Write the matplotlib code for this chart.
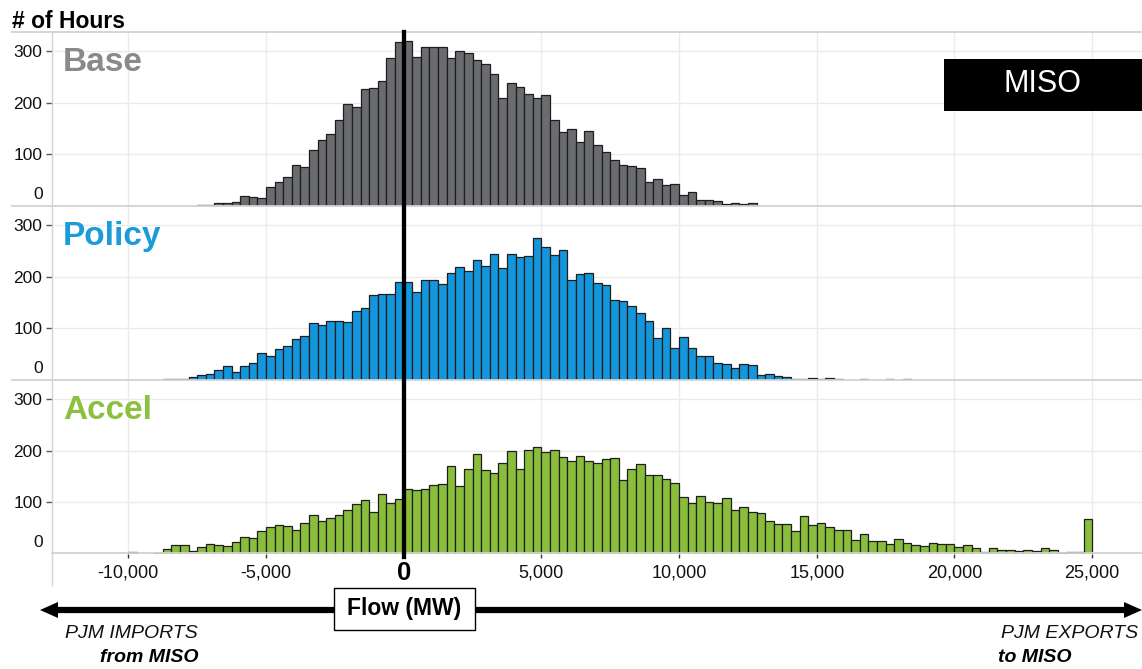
import matplotlib
matplotlib.use("Agg")
import matplotlib.pyplot as plt
from matplotlib.lines import Line2D
from matplotlib.patches import Rectangle, Polygon
from matplotlib.transforms import blended_transform_factory
import numpy as np

plt.rcParams['font.family'] = ['Liberation Sans', 'DejaVu Sans']

# ---------------- data ----------------
BIN_WIDTH = 312.5  # MW

scenarios = ["Base", "Policy", "Accel"]

base_start = -7500.0
base_counts = [1, 1, 5, 5, 6, 19, 17, 14, 36, 45, 56, 78, 75, 107, 127, 139, 166, 197, 191,
               227, 229, 241, 287, 317,
               319, 289, 307, 307, 307, 287, 301, 297, 283, 275, 255, 209, 238, 231, 216, 209,
               215, 167, 142, 149, 123, 145, 117, 103, 89, 79, 76, 73, 45, 51, 39, 41, 21, 27,
               10, 10, 8, 2, 4, 2, 4]

policy_start = -8750.0
policy_counts = [1, 1, 1, 5, 8, 10, 19, 27, 15, 27, 32, 51, 46, 60, 65, 79, 85, 109, 105, 113,
                 113, 111, 134, 139, 165, 167, 167, 189,
                 189, 169, 193, 193, 185, 206, 218, 210, 233, 220, 244, 216, 243, 237, 239, 274,
                 258, 241, 252, 193, 204, 206, 188, 183, 154, 152, 142, 130, 113, 80, 101, 61,
                 82, 62, 45, 45, 33, 31, 23, 31, 28, 8, 11, 6, 5, 1, 1, 3, 1, 3, 1, 0, 0, 1, 0,
                 0, 1, 0, 1]

accel_start = -10000.0
accel_counts = [2, 0, 0, 1, 9, 16, 16, 5, 12, 18, 16, 14, 22, 33, 30, 44, 52, 56, 54, 46, 59,
                75, 64, 69, 74, 85, 97, 103, 80, 115, 99, 105,
                126, 123, 125, 133, 135, 170, 131, 165, 194, 162, 157, 176, 200, 165, 202, 206,
                197, 202, 187, 180, 190, 180, 176, 184, 186, 142, 165, 173, 153, 153, 144, 137,
                109, 99, 112, 101, 99, 107, 85,
                91, 81, 79, 64, 58, 58, 44, 73, 56, 59, 51, 46, 46, 27, 37, 25, 25, 18, 28, 20,
                16, 14, 20, 18, 18, 12, 16, 10, 3, 10, 7, 7, 5, 7, 4, 10, 7, 1, 3, 3, 67]

starts = [base_start, policy_start, accel_start]
counts = [base_counts, policy_counts, accel_counts]

bar_colors = ["#6b6c70", "#1496dc", "#8bbd3c"]
label_colors = ["#8a8a8a", "#1b9bd8", "#8cc03f"]

y_ticks = [100, 200, 300]
x_ticks = [-10000, -5000, 0, 5000, 10000, 15000, 20000, 25000]
x_tick_labels = ["-10,000", "-5,000", "0", "5,000", "10,000", "15,000", "20,000", "25,000"]

# ---------------- layout ----------------
W, H = 1142, 669
fig = plt.figure(figsize=(W / 100, H / 100), dpi=100)
fig.patch.set_facecolor("white")


def fx(px):
    return px / W


def fy(py):
    return 1 - py / H


XMIN, XMAX = -12770, 26810
YMAX = 337
panel_tops = [32, 206, 380]
panel_h = 173.5
ax_left = 52
ax_w = 1142 - 52

grid_c = "#ebebeb"
sep_c = "#d2d2d2"

axes = []
for i, name in enumerate(scenarios):
    top = panel_tops[i]
    ax = fig.add_axes([fx(ax_left), fy(top + panel_h), fx(ax_w), panel_h / H])
    ax.set_xlim(XMIN, XMAX)
    ax.set_ylim(0, YMAX)
    for s in ax.spines.values():
        s.set_visible(False)
    ax.set_axisbelow(True)
    ax.set_xticks(x_ticks)
    ax.set_yticks(y_ticks)
    ax.grid(True, color=grid_c, lw=1.0)
    ax.set_yticklabels([str(v) for v in y_ticks], fontsize=12.5, color="#111111")
    ax.tick_params(axis="y", length=4, width=1, color="#555555", pad=3)
    ax.tick_params(axis="x", length=0, labelbottom=False)

    c = np.array(counts[i], dtype=float)
    lefts = starts[i] + BIN_WIDTH * np.arange(len(c))
    m = c > 0
    ax.bar(lefts[m], c[m], width=BIN_WIDTH, align="edge", color=bar_colors[i],
           edgecolor="#1e1e1e", linewidth=0.9, zorder=2)

    # zero label (offset, no tick)
    ax.text(-(8.5 / ax_w), 21, "0", transform=ax.get_yaxis_transform(), ha="right",
            va="center", fontsize=12.5, color="#111111")
    # panel name
    ax.text(11 / ax_w, 1 - 38.7 / panel_h, name, transform=ax.transAxes, ha="left",
            va="baseline", fontsize=24, fontweight="bold", color=label_colors[i])
    axes.append(ax)

ax_b = axes[-1]
# x tick marks & labels on bottom panel
ax_b.tick_params(axis="x", length=3, width=1, color="#333333", direction="out")
xt = blended_transform_factory(ax_b.transData, fig.transFigure)
for v, lab in zip(x_ticks, x_tick_labels):
    if v == 0:
        ax_b.text(v, fy(572.5), lab, transform=xt, ha="center", va="center",
                  fontsize=18.5, fontweight="bold", color="black")
    else:
        ax_b.text(v, fy(573), lab, transform=xt, ha="center", va="center",
                  fontsize=13, color="#111111")

# separators / borders
for yy in panel_tops:
    fig.add_artist(Line2D([fx(12), fx(1142)], [fy(yy), fy(yy)], color=sep_c, lw=1.3))
fig.add_artist(Line2D([fx(52), fx(1142)], [fy(553), fy(553)], color=sep_c, lw=1.3))
fig.add_artist(Line2D([fx(52), fx(52)], [fy(32), fy(585)], color=sep_c, lw=1.0))

# zero line
fig.add_artist(Line2D([0, 0], [fy(557), fy(32)], transform=xt, color="black", lw=3.1,
                      zorder=10))

# title
fig.text(fx(12), fy(28), "# of Hours", ha="left", va="baseline", fontsize=16.5,
         fontweight="bold", color="black")

# MISO box
fig.add_artist(Rectangle((fx(944), fy(110.7)), fx(1142 - 944), (110.7 - 59) / H,
                         transform=fig.transFigure, facecolor="black", edgecolor="none"))
fig.text(fx(1043), fy(84), "MISO", ha="center", va="center", fontsize=22, color="white")

# double arrow
ay = 610
fig.add_artist(Line2D([fx(55), fx(1128)], [fy(ay), fy(ay)], color="black", lw=4.5,
                      solid_capstyle="butt"))
fig.add_artist(Polygon([[fx(40), fy(ay)], [fx(58), fy(ay - 8)], [fx(58), fy(ay + 8)]],
                       closed=True, transform=fig.transFigure, facecolor="black",
                       edgecolor="none"))
fig.add_artist(Polygon([[fx(1142), fy(ay)], [fx(1124), fy(ay - 8)], [fx(1124), fy(ay + 8)]],
                       closed=True, transform=fig.transFigure, facecolor="black",
                       edgecolor="none"))

# Flow box
fig.add_artist(Rectangle((fx(334), fy(630)), fx(475 - 334), (630 - 588) / H,
                         transform=fig.transFigure, facecolor="white", edgecolor="black",
                         lw=1.0, zorder=5))
fig.text(fx(404.5), fy(609), "Flow (MW)", ha="center", va="center", fontsize=16.5,
         fontweight="bold", color="black", zorder=6)

# direction notes
fig.text(fx(198), fy(634), "PJM IMPORTS", ha="right", va="center", fontsize=14,
         style="italic", color="#111111")
fig.text(fx(198), fy(657), "from MISO", ha="right", va="center", fontsize=14,
         style="italic", fontweight="bold", color="black")
fig.text(fx(1138), fy(634), "PJM EXPORTS", ha="right", va="center", fontsize=14,
         style="italic", color="#111111")
fig.text(fx(998), fy(657), "to MISO", ha="left", va="center", fontsize=14,
         style="italic", fontweight="bold", color="black")

fig.savefig("out.png", dpi=100, facecolor="white")
